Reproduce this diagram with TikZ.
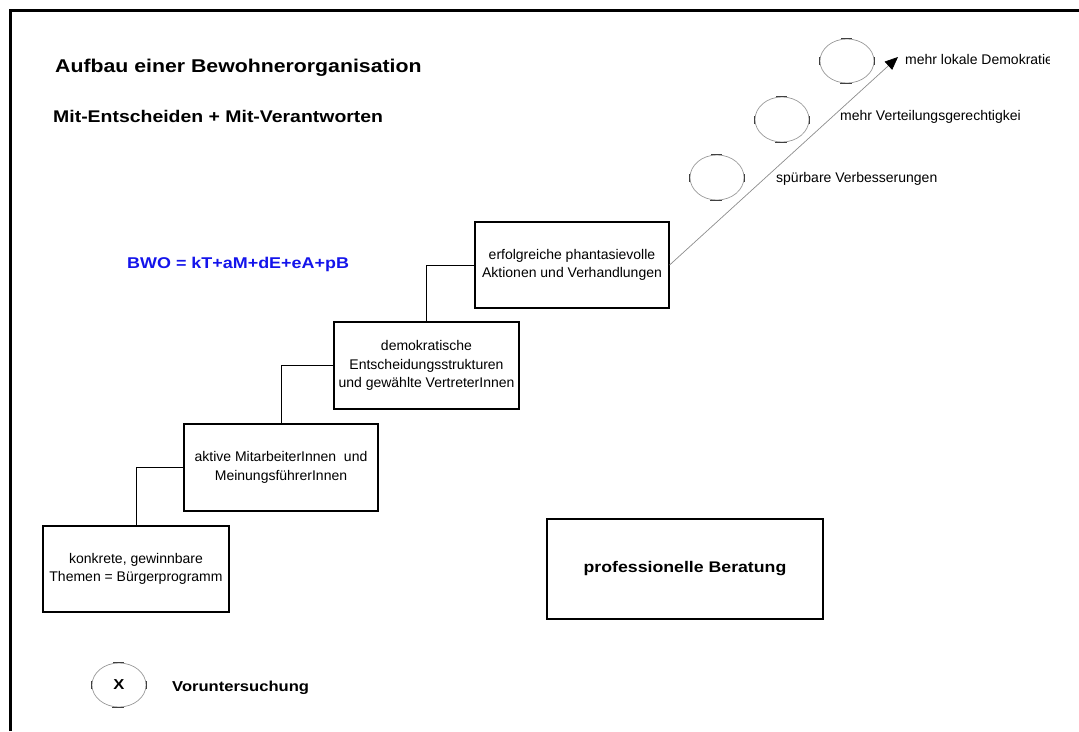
\documentclass[tikz,border=0pt]{standalone}
\usepackage{fontspec}
\setmainfont{Liberation Sans}
\newfontfamily\widefont{Liberation Sans}[FakeStretch=1.15]
\usetikzlibrary{shapes.geometric,arrows.meta}
\definecolor{bwoblue}{RGB}{20,20,235}
\newcommand\ellmarks[1]{%
  \draw[ellmark] ([xshift=-6pt]#1.north) -- ([xshift=5pt]#1.north);
  \draw[ellmark] ([xshift=-7pt]#1.south) -- ([xshift=5pt]#1.south);
  \draw[ellmark] ([yshift=-4pt]#1.west) -- ([yshift=4pt]#1.west);
  \draw[ellmark] ([yshift=-4pt]#1.east) -- ([yshift=4pt]#1.east);}
\begin{document}
\begin{tikzpicture}[x=1pt,y=-1pt,
  stepbox/.style={draw=black,line width=1.2pt,align=center,inner sep=0pt,
    font=\fontsize{14}{18.5}\selectfont},
  bigbox/.style={draw=black,line width=1.2pt,align=center,inner sep=0pt,
    font=\widefont\bfseries\fontsize{15.4}{18}\selectfont},
  conn/.style={draw=black,line width=1pt},
  oval/.style={ellipse,draw=black!40,line width=0.7pt,inner sep=0pt,
    minimum width=54pt,minimum height=44pt},
  ellmark/.style={draw=black!75,line width=1pt},
  lbl/.style={inner sep=0pt,anchor=base west,font=\fontsize{14}{16}\selectfont},
  headline/.style={inner sep=0pt,anchor=base west,font=\widefont\bfseries\fontsize{#1}{#1}\selectfont},
  arrowline/.style={draw=black!45,line width=0.7pt,
    -{Triangle[length=13pt,width=11pt,color=black]}}
]
\useasboundingbox (0,0) rectangle (1079,731);
% frame lines
\draw[line width=2.4pt] (10.5,731) -- (10.5,10.5) -- (1079,10.5);

% headings
\node[headline=18.5] (title) at (55,72.3) {Aufbau einer Bewohnerorganisation};
\node[headline=16.9] (subtitle) at (53,122.7) {Mit-Entscheiden + Mit-Verantworten};
\node[headline=15.6,text=bwoblue] (bwo) at (127,268.7) {BWO = kT+aM+dE+eA+pB};

% step boxes
\node[stepbox,minimum width=186pt,minimum height=86pt] (b1) at (136,569)
  {konkrete, gewinnbare\\Themen = Bürgerprogramm};
\node[stepbox,minimum width=194pt,minimum height=87pt] (b2) at (281,467.5)
  {aktive MitarbeiterInnen\ \ und\\MeinungsführerInnen};
\node[stepbox,minimum width=185pt,minimum height=87pt] (b3) at (426.5,365.5)
  {demokratische\\Entscheidungsstrukturen\\und gewählte VertreterInnen};
\node[stepbox,minimum width=194pt,minimum height=86pt] (b4) at (572,265)
  {erfolgreiche phantasievolle\\Aktionen und Verhandlungen};
\node[bigbox,minimum width=276pt,minimum height=100pt] (b5) at (685,569)
  {professionelle Beratung};

% connectors
\draw[conn] (b1.north) |- (b2.west);
\draw[conn] (b2.north) |- (b3.west);
\draw[conn] (b3.north) |- (b4.west);

% arrow
\coordinate (tip) at (898,57);
\draw[arrowline] (b4.east) -- (tip);

% ovals
\node[oval] (e1) at (847,61) {};
\node[oval,minimum height=45pt] (e2) at (782,119.5) {};
\node[oval,minimum height=45pt] (e3) at (717,177.5) {};
\node[oval,font=\widefont\bfseries\fontsize{14.4}{16}\selectfont] (ex) at (119,685) {X};
\ellmarks{e1}\ellmarks{e2}\ellmarks{e3}\ellmarks{ex}

% labels
\begin{scope}
\clip (0,0) rectangle (1049.5,731);
\node[lbl] (l1) at (905,64.3) {mehr lokale Demokratie};
\end{scope}
\node[lbl] (l2) at (840,120.7) {mehr Verteilungsgerechtigkei};
\node[lbl] (l3) at (776,182.3) {spürbare Verbesserungen};
\node[headline=14.4] (vu) at (172,691) {Voruntersuchung};
\end{tikzpicture}
\end{document}
